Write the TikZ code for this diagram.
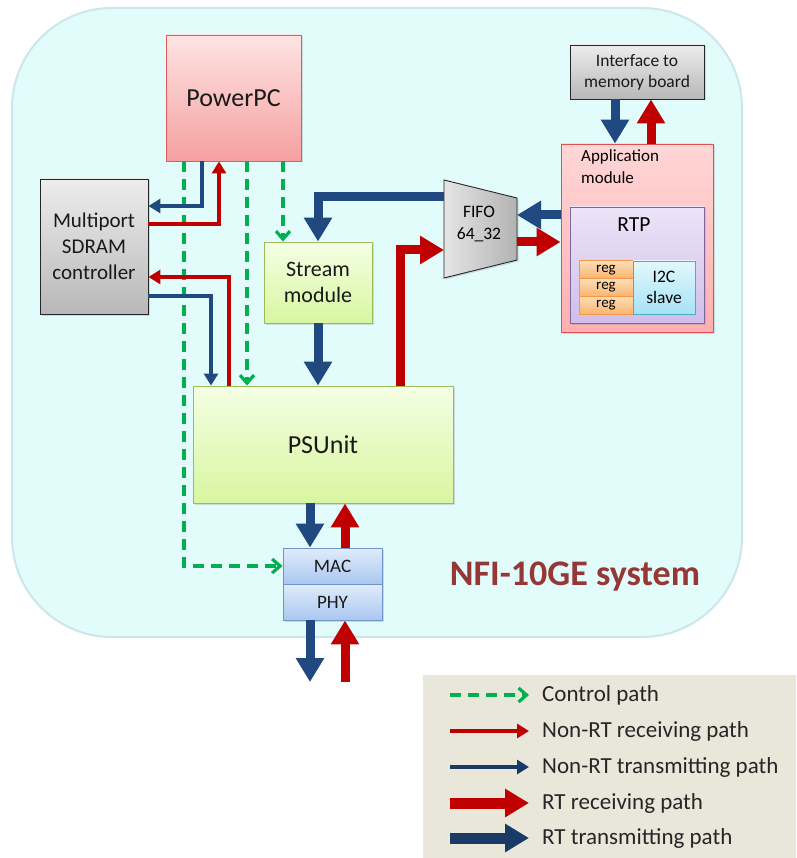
\documentclass[tikz,border=0pt]{standalone}
\usepackage{fontspec}
\setmainfont{Carlito}
\usepackage{xcolor}
\usepackage{tikz}
\usetikzlibrary{arrows.meta, shadows}

\definecolor{rtblue}{RGB}{31,73,128}
\definecolor{rtred}{RGB}{192,0,0}
\definecolor{ctrlgreen}{RGB}{0,176,80}
\definecolor{sysfill}{RGB}{226,251,251}
\definecolor{sysline}{RGB}{204,230,236}
\definecolor{legfill}{RGB}{233,231,218}
\definecolor{sysname}{RGB}{149,55,53}

\begin{document}
\begin{tikzpicture}[x=1pt, y=-1pt,
    box/.style={draw, line width=0.9pt, inner sep=0pt, align=center, text=black!90,
        drop shadow={shadow xshift=1.5pt, shadow yshift=-1.5pt, opacity=0.25}},
    pinkbox/.style={box, draw={rgb,255:red,225;green,90;blue,90}, top color={rgb,255:red,255;green,228;blue,228}, bottom color={rgb,255:red,245;green,160;blue,160}},
    graybox/.style={box, draw=black!85, top color=black!7, bottom color=black!28},
    greenbox/.style={box, draw={rgb,255:red,155;green,187;blue,89}, top color={rgb,255:red,244;green,255;blue,228}, bottom color={rgb,255:red,216;green,246;blue,160}},
    bluebox/.style={box, draw={rgb,255:red,110;green,148;blue,200}, top color={rgb,255:red,224;green,236;blue,250}, bottom color={rgb,255:red,170;green,199;blue,240}},
    appbox/.style={box, draw={rgb,255:red,224;green,80;blue,80}, top color={rgb,255:red,255;green,214;blue,214}, bottom color={rgb,255:red,255;green,176;blue,176}},
    rtpbox/.style={box, draw={rgb,255:red,128;green,100;blue,162}, top color={rgb,255:red,236;green,228;blue,248}, bottom color={rgb,255:red,208;green,190;blue,234}},
    regbox/.style={draw={rgb,255:red,247;green,150;blue,70}, line width=0.9pt, top color={rgb,255:red,253;green,222;blue,184}, bottom color={rgb,255:red,249;green,180;blue,110}, inner sep=0pt, minimum width=54pt, minimum height=17.7pt, font=\fontsize{15}{17}\selectfont},
    i2cbox/.style={draw={rgb,255:red,75;green,172;blue,198}, line width=0.9pt, top color={rgb,255:red,226;green,248;blue,253}, bottom color={rgb,255:red,166;green,226;blue,245}, inner sep=0pt, align=center, minimum width=62pt, minimum height=53pt, font=\fontsize{17.5}{21}\selectfont},
    ctrl/.style={ctrlgreen, line width=3.2pt, dash pattern=on 11pt off 7pt, -{Straight Barb[length=8pt, width=14pt]}},
    nrr/.style={rtred, line width=4.4pt, -{Triangle[length=12pt, width=14pt]}},
    ntb/.style={rtblue, line width=4.4pt, -{Triangle[length=12pt, width=14pt]}},
    rtr/.style={rtred, line width=9pt, -{Triangle[length=24pt, width=27pt]}},
    rtt/.style={rtblue, line width=9pt, -{Triangle[length=24pt, width=27pt]}},
    legtext/.style={anchor=west, inner sep=0pt, text=black!85, font=\fontsize{23}{26}\selectfont}]
    \useasboundingbox (0,0) rectangle (796,858);
    \fill[white] (0,0) rectangle (796,858);
    % system area
    \draw[sysline, fill=sysfill, line width=2pt, rounded corners=100pt] (12,8) rectangle (742,637);
    \node[text=sysname, font=\bfseries\fontsize{36}{40}\selectfont] (sysname) at (575,577) {NFI-10GE system};
    % blocks
    \node[pinkbox, minimum width=135pt, minimum height=126pt, font=\fontsize{26}{30}\selectfont] (ppc) at (233.5,98) {PowerPC};
    \node[graybox, minimum width=108pt, minimum height=135pt, font=\fontsize{21}{26}\selectfont] (sdram) at (94,246.5) {Multiport\\SDRAM\\controller};
    \node[greenbox, minimum width=108pt, minimum height=81pt, font=\fontsize{22}{26}\selectfont] (stream) at (318,282.5) {Stream\\module};
    \node[greenbox, minimum width=260pt, minimum height=117pt, font=\fontsize{26}{30}\selectfont] (psu) at (323,444.5) {PSUnit};
    \node[bluebox, minimum width=99pt, minimum height=36pt, font=\fontsize{19}{22}\selectfont] (mac) at (332.5,566) {MAC};
    \node[bluebox, minimum width=99pt, minimum height=36pt, font=\fontsize{19}{22}\selectfont] (phy) at (332.5,602) {PHY};
    \node[graybox, minimum width=134pt, minimum height=54pt, font=\fontsize{17.5}{21}\selectfont] (mem) at (637,72) {Interface to\\memory board};
    % FIFO
    \coordinate (fifo-l) at (444,229);
    \coordinate (fifo-r) at (517,229);
    \draw[line width=0.9pt, draw=black!85, left color=black!10, right color=black!30,
        drop shadow={shadow xshift=1.5pt, shadow yshift=-1.5pt, opacity=0.25}]
        (444,180) -- (517,198) -- (517,260) -- (444,278) -- cycle;
    \node[align=center, font=\fontsize{17.5}{22}\selectfont] (fifo) at (479,224) {FIFO\\64\_32};
    % application module
    \node[appbox, minimum width=152pt, minimum height=188pt] (app) at (637,238) {};
    \node[anchor=north west, align=left, inner sep=0pt, font=\fontsize{17}{22}\selectfont] (applabel) at (581,149) {Application\\module};
    \node[rtpbox, minimum width=134pt, minimum height=116pt] (rtp) at (637,265) {};
    \node[font=\fontsize{21.5}{24}\selectfont] (rtplabel) at (634,225) {RTP};
    \node[regbox] (reg1) at (606,269.8) {reg};
    \node[regbox] (reg2) at (606,287.5) {reg};
    \node[regbox] (reg3) at (606,305.2) {reg};
    \node[i2cbox] (i2c) at (664,287.5) {I2C\\slave};
    % control paths
    \draw[ctrl] (184,0 |- ppc.south) |- (mac.west);
    \draw[ctrl] (247,0 |- ppc.south) -- (247,0 |- psu.north);
    \draw[ctrl] (283,0 |- ppc.south) -- (283,0 |- stream.north);
    % non-RT paths
    \draw[ntb] (202,0 |- ppc.south) |- (sdram.east |- 0,206);
    \draw[nrr] (sdram.east |- 0,224) -| (219,0 |- ppc.south);
    \draw[nrr] (229,0 |- psu.north) |- (sdram.east |- 0,277);
    \draw[ntb] (sdram.east |- 0,296) -| (211,0 |- psu.north);
    % RT paths
    \draw[rtt] (fifo-l |- 0,197) -| (stream.north);
    \draw[rtt] (stream.south) -- (stream.south |- psu.north);
    \draw[rtr] (400,0 |- psu.north) |- (fifo-l |- 0,250);
    \draw[rtt] (app.west |- 0,215) -- (fifo-r |- 0,215);
    \draw[rtr] (fifo-r |- 0,242) -- (app.west |- 0,242);
    \draw[rtt] (615,0 |- mem.south) -- (615,0 |- app.north);
    \draw[rtr] (651,0 |- app.north) -- (651,0 |- mem.south);
    \draw[rtt] (310,0 |- psu.south) -- (310,0 |- mac.north);
    \draw[rtr] (345,0 |- mac.north) -- (345,0 |- psu.south);
    \coordinate (netout) at (310,682);
    \coordinate (netin) at (345,682);
    \draw[rtt] (310,0 |- phy.south) -- (netout);
    \draw[rtr] (netin) -- (345,0 |- phy.south);
    % legend
    \fill[legfill] (423,675) rectangle (796,858);
    \node[legtext] (leg1) at (542,695) {Control path};
    \node[legtext] (leg2) at (542,731) {Non-RT receiving path};
    \node[legtext] (leg3) at (542,767) {Non-RT transmitting path};
    \node[legtext] (leg4) at (542,803) {RT receiving path};
    \node[legtext] (leg5) at (542,838) {RT transmitting path};
    \coordinate (leg1s) at (450,695);
    \coordinate (leg2s) at (450,731);
    \coordinate (leg3s) at (450,767);
    \coordinate (leg4s) at (450,803);
    \coordinate (leg5s) at (450,838);
    \draw[ctrl] (leg1s) -- ([xshift=-13pt]leg1.west);
    \draw[nrr] (leg2s) -- ([xshift=-13pt]leg2.west);
    \draw[ntb, rtblue!80!black] (leg3s) -- ([xshift=-13pt]leg3.west);
    \draw[rtr, line width=11pt] (leg4s) -- ([xshift=-13pt]leg4.west);
    \draw[rtt, line width=11pt, rtblue!80!black] (leg5s) -- ([xshift=-13pt]leg5.west);
\end{tikzpicture}
\end{document}
